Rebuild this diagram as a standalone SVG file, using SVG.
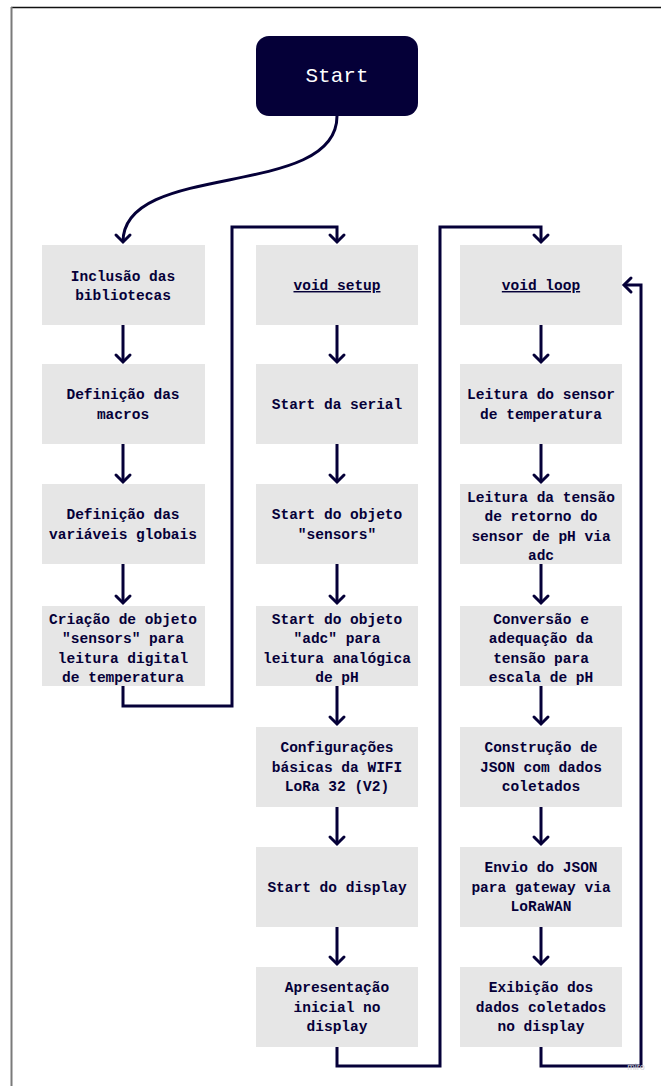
<svg xmlns="http://www.w3.org/2000/svg" width="661" height="1086" viewBox="0 0 661 1086">
  <style>
    .box { fill: #e6e6e6; }
    .lbl { font-family: "Liberation Mono", "DejaVu Sans Mono", monospace; font-size: 14.5px; font-weight: bold; fill: #050038; text-anchor: middle; }
    .u { text-decoration: underline; }
    .start { font-family: "Liberation Mono", "DejaVu Sans Mono", monospace; font-size: 21px; fill: #ffffff; text-anchor: middle; }
    .wire { fill: none; stroke: #050038; stroke-width: 3; stroke-linejoin: miter; }
  </style>
  <defs>
    <marker id="chev" markerUnits="userSpaceOnUse" markerWidth="20" markerHeight="20" viewBox="-10 -10 20 20" refX="0" refY="0" orient="auto">
      <path d="M-7,-7 L0,0 L-7,7" fill="none" stroke="#050038" stroke-width="3" stroke-linecap="round" stroke-linejoin="miter"/>
    </marker>
  </defs>

  <rect x="0" y="0" width="661" height="1086" fill="#ffffff"/>
  <!-- frame edges -->
  <line x1="11" y1="7.5" x2="661" y2="7.5" stroke="#111" stroke-width="1.5"/>
  <line x1="11.5" y1="7" x2="11.5" y2="1086" stroke="#7a7a7a" stroke-width="2"/>

  <!-- connectors -->
  <g id="connectors" class="wire" marker-end="url(#chev)">
    <path d="M337,116 C337,200 123,160 123,242"/>
    <!-- column 1 -->
    <path d="M123,325 V362"/>
    <path d="M123,444 V482"/>
    <path d="M123,564 V603"/>
    <path d="M123,686 V706 H232 V227 H337 V242"/>
    <!-- column 2 -->
    <path d="M337,325 V362"/>
    <path d="M337,444 V482"/>
    <path d="M337,564 V603"/>
    <path d="M337,686 V724"/>
    <path d="M337,807 V844"/>
    <path d="M337,927 V964"/>
    <path d="M337,1047 V1066 H440 V227 H541 V242"/>
    <!-- column 3 -->
    <path d="M541,325 V362"/>
    <path d="M541,444 V482"/>
    <path d="M541,564 V603"/>
    <path d="M541,686 V724"/>
    <path d="M541,807 V844"/>
    <path d="M541,927 V964"/>
    <path d="M541,1047 V1066 H641 V285 H624"/>
  </g>

  <g id="start">
    <rect x="256" y="36" width="162" height="80" rx="13" fill="#050038"/>
    <text class="start" x="337" y="82">Start</text>
  </g>

  <!-- column 1 -->
  <g id="inclusao">
    <rect class="box" x="42" y="245" width="163" height="80"/>
    <text class="lbl" x="123" y="280.5">Inclusão das</text>
    <text class="lbl" x="123" y="300">bibliotecas</text>
  </g>
  <g id="macros">
    <rect class="box" x="42" y="364" width="163" height="80"/>
    <text class="lbl" x="123" y="399">Definição das</text>
    <text class="lbl" x="123" y="418.5">macros</text>
  </g>
  <g id="globais">
    <rect class="box" x="42" y="484" width="163" height="80"/>
    <text class="lbl" x="123" y="519">Definição das</text>
    <text class="lbl" x="123" y="538.5">variáveis globais</text>
  </g>
  <g id="objeto-sensors">
    <rect class="box" x="42" y="606" width="163" height="80"/>
    <text class="lbl" x="123" y="623.5">Criação de objeto</text>
    <text class="lbl" x="123" y="643">"sensors" para</text>
    <text class="lbl" x="123" y="662.5">leitura digital</text>
    <text class="lbl" x="123" y="682">de temperatura</text>
  </g>

  <!-- column 2 -->
  <g id="setup">
    <rect class="box" x="256" y="245" width="162" height="80"/>
    <text class="lbl u" x="337" y="290">void setup</text>
  </g>
  <g id="serial">
    <rect class="box" x="256" y="364" width="162" height="80"/>
    <text class="lbl" x="337" y="408.5">Start da serial</text>
  </g>
  <g id="start-sensors">
    <rect class="box" x="256" y="484" width="162" height="80"/>
    <text class="lbl" x="337" y="519">Start do objeto</text>
    <text class="lbl" x="337" y="538.5">"sensors"</text>
  </g>
  <g id="start-adc">
    <rect class="box" x="256" y="606" width="162" height="80"/>
    <text class="lbl" x="337" y="623.5">Start do objeto</text>
    <text class="lbl" x="337" y="643">"adc" para</text>
    <text class="lbl" x="337" y="662.5">leitura analógica</text>
    <text class="lbl" x="337" y="682">de pH</text>
  </g>
  <g id="wifi">
    <rect class="box" x="256" y="727" width="162" height="80"/>
    <text class="lbl" x="337" y="752">Configurações</text>
    <text class="lbl" x="337" y="771.5">básicas da WIFI</text>
    <text class="lbl" x="337" y="791">LoRa 32 (V2)</text>
  </g>
  <g id="display">
    <rect class="box" x="256" y="847" width="162" height="80"/>
    <text class="lbl" x="337" y="891.5">Start do display</text>
  </g>
  <g id="apresentacao">
    <rect class="box" x="256" y="967" width="162" height="80"/>
    <text class="lbl" x="337" y="992">Apresentação</text>
    <text class="lbl" x="337" y="1011.5">inicial no</text>
    <text class="lbl" x="337" y="1031">display</text>
  </g>

  <!-- column 3 -->
  <g id="loop">
    <rect class="box" x="460" y="245" width="162" height="80"/>
    <text class="lbl u" x="541" y="290">void loop</text>
  </g>
  <g id="leitura-temp">
    <rect class="box" x="460" y="364" width="162" height="80"/>
    <text class="lbl" x="541" y="399">Leitura do sensor</text>
    <text class="lbl" x="541" y="418.5">de temperatura</text>
  </g>
  <g id="leitura-ph">
    <rect class="box" x="460" y="484" width="162" height="80"/>
    <text class="lbl" x="541" y="501.5">Leitura da tensão</text>
    <text class="lbl" x="541" y="521">de retorno do</text>
    <text class="lbl" x="541" y="540.5">sensor de pH via</text>
    <text class="lbl" x="541" y="560">adc</text>
  </g>
  <g id="conversao">
    <rect class="box" x="460" y="606" width="162" height="80"/>
    <text class="lbl" x="541" y="623.5">Conversão e</text>
    <text class="lbl" x="541" y="643">adequação da</text>
    <text class="lbl" x="541" y="662.5">tensão para</text>
    <text class="lbl" x="541" y="682">escala de pH</text>
  </g>
  <g id="json">
    <rect class="box" x="460" y="727" width="162" height="80"/>
    <text class="lbl" x="541" y="752">Construção de</text>
    <text class="lbl" x="541" y="771.5">JSON com dados</text>
    <text class="lbl" x="541" y="791">coletados</text>
  </g>
  <g id="envio">
    <rect class="box" x="460" y="847" width="162" height="80"/>
    <text class="lbl" x="541" y="872">Envio do JSON</text>
    <text class="lbl" x="541" y="891.5">para gateway via</text>
    <text class="lbl" x="541" y="911">LoRaWAN</text>
  </g>
  <g id="exibicao">
    <rect class="box" x="460" y="967" width="162" height="80"/>
    <text class="lbl" x="541" y="992">Exibição dos</text>
    <text class="lbl" x="541" y="1011.5">dados coletados</text>
    <text class="lbl" x="541" y="1031">no display</text>
  </g>

  <text x="636" y="1070" font-family="Liberation Sans, sans-serif" font-size="9" fill="#d4d4d8" text-anchor="middle">miro</text>
</svg>
